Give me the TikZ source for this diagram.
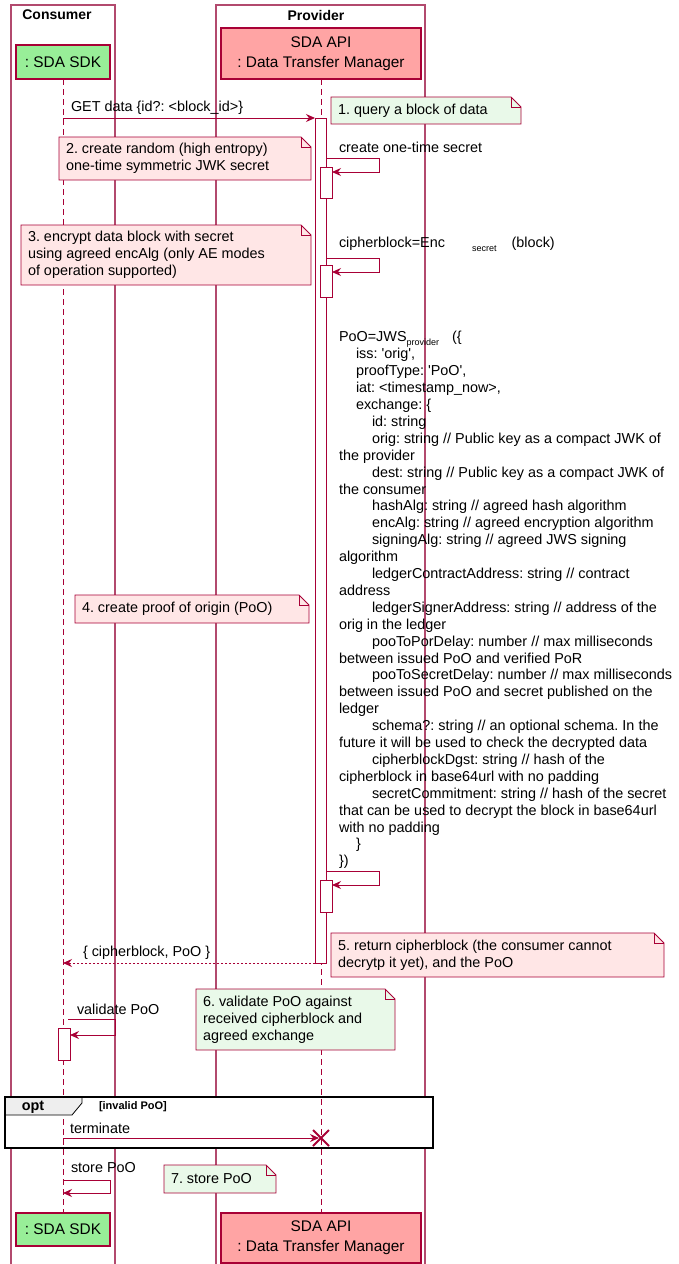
\documentclass[tikz,border=0pt]{standalone}
\usepackage{fontspec}
\setmainfont{Liberation Sans}
\usetikzlibrary{arrows.meta}
\frenchspacing

\definecolor{bd}{HTML}{A80036}
\definecolor{boxbd}{HTML}{B24A6E}
\definecolor{sdkgreen}{HTML}{98EE98}
\definecolor{apipink}{HTML}{FFA4A4}
\definecolor{notepink}{HTML}{FFE6E6}
\definecolor{notegreen}{HTML}{E9F9E9}
\definecolor{tabgray}{HTML}{EEEEEE}

\pgfdeclarelayer{bg}
\pgfdeclarelayer{lines}
\pgfdeclarelayer{notes}
\pgfsetlayers{bg,lines,notes,main}

% note with a folded corner; defines a coordinate where its text starts
\newcommand{\notebox}[6]{%
  \begin{pgfonlayer}{notes}
    \filldraw[notebd, fill=#6] (#2,#3) -- (#4-10,#3) -- (#4,#3+10) -- (#4,#5) -- (#2,#5) -- cycle;
    \draw[notebd] (#4-10,#3) -- (#4-10,#3+10) -- (#4,#3+10);
  \end{pgfonlayer}
  \coordinate (#1) at (#2+7,{(#3+#5)/2});
}

\begin{document}
\begin{tikzpicture}[x=1pt,y=-1pt,
  every node/.style={inner sep=0pt, outer sep=0pt},
  txt/.style={font=\fontsize{14.4}{16.9}\selectfont, align=left, anchor=west},
  head/.style={font=\fontsize{14}{16}\selectfont\bfseries},
  part/.style={draw=bd, line width=1.5pt, font=\fontsize{15.4}{20}\selectfont, align=center, anchor=north west},
  actbar/.style={draw=bd, fill=white, line width=1pt, anchor=north west},
  grp/.style={draw=boxbd, line width=1.2pt},
  life/.style={draw=bd, line width=1pt, dash pattern=on 6pt off 4pt},
  notebd/.style={draw=bd, line width=0.9pt},
  msg/.style={draw=bd, line width=1pt, -{Stealth[length=9pt,width=8pt,inset=3pt]}},
  retmsg/.style={msg, dash pattern=on 2pt off 2pt}
]
\useasboundingbox (0,0) rectangle (679,1264);

% page background and grouping boxes
\begin{pgfonlayer}{bg}
  \fill[white] (0,0) rectangle (679,1264);
  \draw[grp] (11,1270) -- (11,5) -- (115,5) -- (115,1270);
  \draw[grp] (216,1270) -- (216,5) -- (425,5) -- (425,1270);
  \fill[white] (5,1097) rectangle (433,1148);
\end{pgfonlayer}
\node[head] (hcons) at (57,15) {Consumer};
\node[head] (hprov) at (316,15) {Provider};

% participants
\node[part, fill=sdkgreen, minimum width=94pt, minimum height=34pt] (sdk) at (16,45) {: SDA SDK};
\node[part, fill=apipink, minimum width=200pt, minimum height=51pt] (api) at (221,28) {SDA API\\: Data Transfer Manager};
\node[part, fill=sdkgreen, minimum width=94pt, minimum height=33pt] (sdkB) at (16,1213) {: SDA SDK};
\node[part, fill=apipink, minimum width=200pt, minimum height=50pt] (apiB) at (221,1213) {SDA API\\: Data Transfer Manager};

% lifelines
\begin{pgfonlayer}{lines}
  \draw[life] (sdk.south) -- (sdkB.north);
  \draw[life] (api.south) -- (apiB.north);
\end{pgfonlayer}

% activations
\node[actbar, minimum width=11pt, minimum height=845pt] (actP) at (315,118) {};
\node[actbar, minimum width=12pt, minimum height=31pt] (act1) at (320,167) {};
\node[actbar, minimum width=12pt, minimum height=32pt] (act2) at (320,265) {};
\node[actbar, minimum width=12pt, minimum height=32pt] (act3) at (320,880) {};
\node[actbar, minimum width=12pt, minimum height=32pt] (actC) at (58,1028) {};

% notes
\notebox{n1}{331}{97}{521}{124}{notegreen}
\node[txt] (n1t) at (n1) {1. query a block of data};
\notebox{n2}{59}{137}{311}{180}{notepink}
\node[txt] (n2t) at (n2) {2. create random (high entropy)\\one-time symmetric JWK secret};
\notebox{n3}{21}{225}{311}{285}{notepink}
\node[txt] (n3t) at (n3) {3. encrypt data block with secret\\using agreed encAlg (only AE modes\\of operation supported)};
\notebox{n4}{75}{595}{309}{623}{notepink}
\node[txt] (n4t) at (n4) {4. create proof of origin (PoO)};
\notebox{n5}{331}{933}{664}{977}{notepink}
\node[txt] (n5t) at (n5) {5. return cipherblock (the consumer cannot\\decrytp it yet), and the PoO};
\notebox{n6}{196}{989}{395}{1050}{notegreen}
\node[txt] (n6t) at (n6) {6. validate PoO against\\received cipherblock and\\agreed exchange};
\notebox{n7}{164}{1165}{276}{1193}{notegreen}
\node[txt] (n7t) at (n7) {7. store PoO};

% GET request
\coordinate (getS) at (63,118);
\draw[msg] (getS) -- (actP.north west);
\node[txt] (getL) at (71,108) {GET data \{id?: <block\_id>\}};

% create one-time secret
\coordinate (s1a) at (326,158);
\coordinate (s1b) at (379,158);
\coordinate (s1c) at (379,172);
\draw[msg] (s1a) -- (s1b) -- (s1c) -- (act1.east |- s1c);
\node[txt] (s1L) at (339,147) {create one-time secret};

% encryption of the block
\coordinate (s2a) at (326,258);
\coordinate (s2b) at (379,258);
\coordinate (s2c) at (379,272);
\draw[msg] (s2a) -- (s2b) -- (s2c) -- (act2.east |- s2c);
\node[txt] (s2L) at (339,244) {cipherblock=Enc\hspace*{27pt}\raisebox{-4pt}{\fontsize{9}{9}\selectfont secret}\hspace*{15pt}(block)};

% proof of origin
\node[txt, anchor=north west] (pooL) at (339,331.5) {PoO=JWS\raisebox{-4pt}{\fontsize{9}{9}\selectfont provider}\hspace*{13pt}(\{\\
\hspace*{17pt}iss: \textquotesingle orig\textquotesingle,\\
\hspace*{17pt}proofType: \textquotesingle PoO\textquotesingle,\\
\hspace*{17pt}iat: <timestamp\_now>,\\
\hspace*{17pt}exchange: \{\\
\hspace*{33pt}id: string\\
\hspace*{33pt}orig: string // Public key as a compact JWK of\\
the provider\\
\hspace*{33pt}dest: string // Public key as a compact JWK of\\
the consumer\\
\hspace*{33pt}hashAlg: string // agreed hash algorithm\\
\hspace*{33pt}encAlg: string // agreed encryption algorithm\\
\hspace*{33pt}signingAlg: string // agreed JWS signing\\
algorithm\\
\hspace*{33pt}ledgerContractAddress: string // contract\\
address\\
\hspace*{33pt}ledgerSignerAddress: string // address of the\\
orig in the ledger\\
\hspace*{33pt}pooToPorDelay: number // max milliseconds\\
between issued PoO and verified PoR\\
\hspace*{33pt}pooToSecretDelay: number // max milliseconds\\
between issued PoO and secret published on the\\
ledger\\
\hspace*{33pt}schema?: string // an optional schema. In the\\
future it will be used to check the decrypted data\\
\hspace*{33pt}cipherblockDgst: string // hash of the\\
cipherblock in base64url with no padding\\
\hspace*{33pt}secretCommitment: string // hash of the secret\\
that can be used to decrypt the block in base64url\\
with no padding\\
\hspace*{17pt}\}\\
\})};
\coordinate (s3a) at (326,871);
\coordinate (s3b) at (379,871);
\coordinate (s3c) at (379,885);
\draw[msg] (s3a) -- (s3b) -- (s3c) -- (act3.east |- s3c);

% reply to the consumer
\coordinate (retE) at (63,963);
\draw[retmsg] (actP.south west) -- (retE);
\node[txt] (retL) at (83,953) {\{ cipherblock, PoO \}};

% validate PoO
\coordinate (v1a) at (68,1019);
\coordinate (v1b) at (115,1019);
\coordinate (v1c) at (115,1035);
\draw[msg] (v1a) -- (v1b) -- (v1c) -- (actC.east |- v1c);
\node[txt] (v1L) at (77,1009) {validate PoO};

% opt fragment
\node[minimum width=428pt, minimum height=51pt, anchor=north west] (optf) at (5,1097) {};
\filldraw[draw=black, line width=0.8pt, fill=tabgray] (optf.north west) -- (82,1097) -- (82,1103) -- (72,1115) -- (5,1115) -- cycle;
\draw[black, line width=2pt] (optf.north west) rectangle (optf.south east);
\node[font=\fontsize{14.4}{16}\selectfont\bfseries] (optL) at (33,1107) {opt};
\node[font=\fontsize{11}{13}\selectfont\bfseries, anchor=west] (optG) at (99,1107) {[invalid PoO]};
\coordinate (termS) at (63,1138);
\coordinate (kill) at (321,1138);
\draw[msg] (termS) -- ([xshift=-2pt]kill);
\draw[bd, line width=2pt] ([shift={(-8,-8)}]kill) -- ([shift={(8,8)}]kill);
\draw[bd, line width=2pt] ([shift={(-8,8)}]kill) -- ([shift={(8,-8)}]kill);
\node[txt] (termL) at (70,1128) {terminate};

% store PoO
\coordinate (st1) at (63,1180);
\coordinate (st2) at (110,1180);
\coordinate (st3) at (110,1193);
\coordinate (st4) at (63,1193);
\draw[msg] (st1) -- (st2) -- (st3) -- (st4);
\node[txt] (stL) at (71,1168) {store PoO};
\end{tikzpicture}
\end{document}
